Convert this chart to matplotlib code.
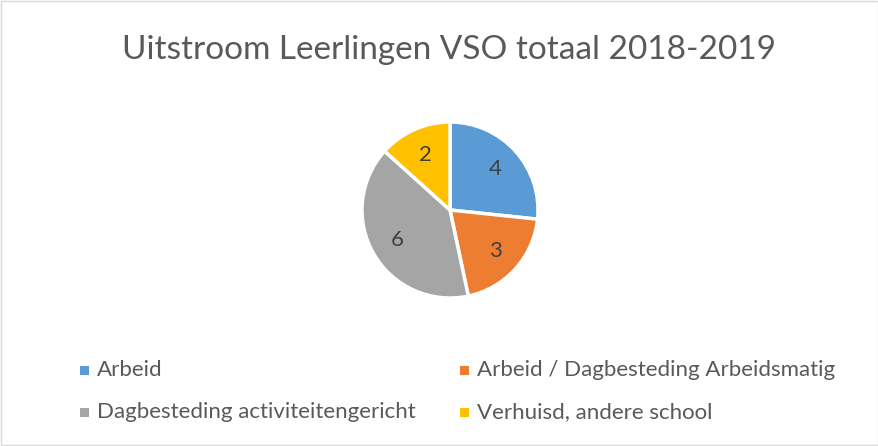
import matplotlib
matplotlib.use("Agg")
import matplotlib.pyplot as plt
from matplotlib.patches import Rectangle

labels = ['Arbeid', 'Arbeid / Dagbesteding Arbeidsmatig',
          'Dagbesteding activiteitengericht', 'Verhuisd, andere school']
values = [4, 3, 6, 2]
colors = ['#5B9BD5', '#ED7D31', '#A5A5A5', '#FFC000']

W, H = 879, 446
fig = plt.figure(figsize=(W / 100, H / 100), dpi=100)
plt.rcParams['font.family'] = ['Lato', 'DejaVu Sans']

# outer border like an Excel chart area
fig.patches.append(Rectangle((1 / W, 1 / H), 1 - 2 / W, 1 - 2 / H, transform=fig.transFigure,
                             fill=False, edgecolor='#D9D9D9', linewidth=1))

fig.text(449 / W, 1 - 50 / H, 'Uitstroom Leerlingen VSO totaal 2018-2019',
         ha='center', va='center', fontsize=24, color='#595959')

# pie axes, centre ~ (450, 210) px, radius ~ 88 px
r = 88
cx, cy = 450, 210
ax = fig.add_axes([(cx - r) / W, 1 - (cy + r) / H, 2 * r / W, 2 * r / H])
wedges, texts = ax.pie(values, colors=colors, startangle=90, counterclock=False,
                       labels=[str(v) for v in values], labeldistance=0.69,
                       wedgeprops=dict(edgecolor='white', linewidth=2.5))
for t in texts:
    t.set_fontsize(16)
    t.set_color('#404040')
    t.set_ha('center')
    t.set_va('center')
ax.set_xlim(-1, 1)
ax.set_ylim(-1, 1)
ax.set_aspect('equal')
ax.axis('off')

# legend, two columns
pos = [(84.5, 370), (464.5, 370), (84.5, 412), (464.5, 412)]
for (x, y), lab, c in zip(pos, labels, colors):
    fig.patches.append(Rectangle(((x - 4.5) / W, 1 - (y + 4.5) / H), 9 / W, 9 / H,
                                 transform=fig.transFigure, facecolor=c, edgecolor='none'))
    fig.text((x + 12.5) / W, 1 - y / H, lab, ha='left', va='center',
             fontsize=16, color='#595959')

fig.savefig('out.png', dpi=100)
